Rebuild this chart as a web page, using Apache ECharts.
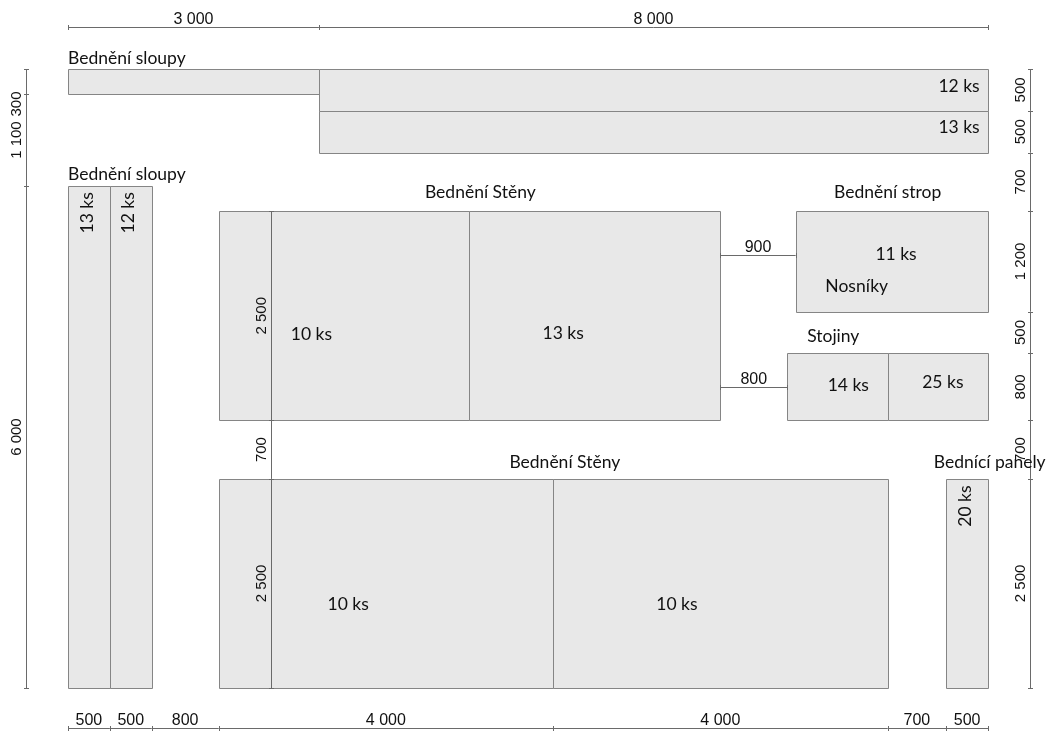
<!DOCTYPE html>
<html>
<head>
<meta charset="utf-8">
<script src="https://cdn.jsdelivr.net/npm/echarts@6/dist/echarts.min.js"></script>
<style>
html,body{margin:0;padding:0;background:#fff;}
#c{width:1052px;height:731px;}
</style>
</head>
<body>
<div id="c"></div>
<script>
// ---- Data (millimetres, origin top-left of the layout) ----
// Formwork pieces: [x0, y0, x1, y1]
const pieces = [
  [0, 0, 3000, 300],
  [3000, 0, 11000, 500],
  [3000, 500, 11000, 1000],
  [0, 1400, 500, 7400],
  [500, 1400, 1000, 7400],
  [1800, 1700, 4800, 4200],
  [4800, 1700, 7800, 4200],
  [8700, 1700, 11000, 2900],
  [8600, 3400, 9800, 4200],
  [9800, 3400, 11000, 4200],
  [1800, 4900, 5800, 7400],
  [5800, 4900, 9800, 7400],
  [10500, 4900, 11000, 7400]
];

// Labels: [text, x, y, anchor]
const labels = [
  ['Bednění sloupy', 0, -130, 'left'],
  ['Bednění sloupy', 0, 1255, 'left'],
  ['12 ks', 10900, 205, 'right'],
  ['13 ks', 10900, 700, 'right'],
  ['Bednění Stěny', 4930, 1470, 'center'],
  ['10 ks', 2910, 3170, 'center'],
  ['13 ks', 5920, 3160, 'center'],
  ['Bednění Stěny', 5940, 4700, 'center'],
  ['10 ks', 3350, 6400, 'center'],
  ['10 ks', 7280, 6400, 'center'],
  ['Bednění strop', 9800, 1480, 'center'],
  ['11 ks', 9900, 2210, 'center'],
  ['Nosníky', 9430, 2600, 'center'],
  ['Stojiny', 9150, 3200, 'center'],
  ['14 ks', 9330, 3780, 'center'],
  ['25 ks', 10460, 3750, 'center'],
  ['Bednící panely', 11020, 4700, 'center']
];
// Vertical (rotated) labels: [text, x, y]
const rotLabels = [
  ['13 ks', 230, 1720],
  ['12 ks', 720, 1720],
  ['20 ks', 10730, 5225]
];

// Dimension chains (break points in mm) and the line they sit on
const dimTop = [0, 3000, 11000];           const dimTopAt = -500;
const dimBottom = [0, 500, 1000, 1800, 5800, 9800, 10500, 11000]; const dimBottomAt = 7880;
const dimLeft = [0, 300, 1400, 7400];      const dimLeftAt = -500;
const dimLeftLabelAt = [418, 850, 4400];
const dimRight = [0, 500, 1000, 1700, 2900, 3400, 4200, 4900, 7400]; const dimRightAt = 11500;
const dimWall = [1700, 4200, 4900, 7400];  const dimWallAt = 2430;
const dimGap1 = [7800, 8700];              const dimGap1At = 2220;
const dimGap2 = [7800, 8600];              const dimGap2At = 3800;

// ---- Build ----
function fmt(n){
  if (n >= 1000) { const r = n % 1000; return Math.floor(n/1000) + ' ' + String(r).padStart(3,'0'); }
  return String(n);
}
const dimItems = [];
function addChain(breaks, at, orient, labelAt){
  for (let i = 0; i < breaks.length - 1; i++) {
    const a = breaks[i], b = breaks[i+1];
    const mid = labelAt ? labelAt[i] : (a + b) / 2;
    dimItems.push([orient, a, b, at, mid, fmt(b - a)]);
  }
}
addChain(dimTop, dimTopAt, 0);
addChain(dimBottom, dimBottomAt, 0);
addChain(dimGap1, dimGap1At, 0);
addChain(dimGap2, dimGap2At, 0);
addChain(dimLeft, dimLeftAt, 1, dimLeftLabelAt);
addChain(dimRight, dimRightAt, 1);
addChain(dimWall, dimWallAt, 1);

const DIM = '#6a6a6a';
const DIMFONT = '"Liberation Sans", Arial, sans-serif';
const BOXFONT = 'Lato, "Open Sans", sans-serif';
const h = v => Math.round(v) + 0.5;

const chart = echarts.init(document.getElementById('c'), null, {renderer: 'canvas'});
chart.setOption({
  animation: false,
  backgroundColor: '#ffffff',
  grid: {left: 68, top: 69, width: 920, height: 619},
  xAxis: {type: 'value', min: 0, max: 11000, show: false},
  yAxis: {type: 'value', min: 0, max: 7400, inverse: true, show: false},
  series: [
    {
      type: 'custom', clip: false, silent: true,
      data: pieces,
      renderItem: function(params, api){
        const p0 = api.coord([api.value(0), api.value(1)]);
        const p1 = api.coord([api.value(2), api.value(3)]);
        const x0 = h(p0[0]), y0 = h(p0[1]), x1 = h(p1[0]), y1 = h(p1[1]);
        return {type: 'rect', shape: {x: x0, y: y0, width: x1 - x0, height: y1 - y0},
          style: {fill: '#e8e8e8', stroke: '#858585', lineWidth: 1}};
      }
    },
    {
      type: 'custom', clip: false, silent: true,
      data: dimItems,
      renderItem: function(params, api){
        const d = dimItems[params.dataIndex];
        const orient = d[0], a = d[1], b = d[2], at = d[3], mid = d[4], txt = d[5];
        const ch = [];
        if (orient === 0) {
          const pa = api.coord([a, at]), pb = api.coord([b, at]), pm = api.coord([mid, at]);
          const y = h(pa[1]);
          ch.push({type: 'line', shape: {x1: pa[0], y1: y, x2: pb[0], y2: y}, style: {stroke: DIM, lineWidth: 1}});
          [pa[0], pb[0]].forEach(function(x){
            ch.push({type: 'line', shape: {x1: h(x), y1: y - 2.5, x2: h(x), y2: y + 2.5}, style: {stroke: DIM, lineWidth: 1}});
          });
          ch.push({type: 'text', x: pm[0], y: y - 8, style: {text: txt, fill: '#111', font: '16px ' + DIMFONT, align: 'center', verticalAlign: 'middle'}});
        } else {
          const pa = api.coord([at, a]), pb = api.coord([at, b]), pm = api.coord([at, mid]);
          const x = h(pa[0]);
          ch.push({type: 'line', shape: {x1: x, y1: pa[1], x2: x, y2: pb[1]}, style: {stroke: DIM, lineWidth: 1}});
          [pa[1], pb[1]].forEach(function(y){
            ch.push({type: 'line', shape: {x1: x - 2.5, y1: h(y), x2: x + 2.5, y2: h(y)}, style: {stroke: DIM, lineWidth: 1}});
          });
          ch.push({type: 'text', x: x - 9.5, y: pm[1], rotation: Math.PI / 2, style: {text: txt, fill: '#111', font: '15px ' + DIMFONT, align: 'center', verticalAlign: 'middle'}});
        }
        return {type: 'group', children: ch};
      }
    },
    {
      type: 'custom', clip: false, silent: true, z: 5,
      data: labels.map(function(l){ return [l[1], l[2], l[0], l[3]]; }),
      renderItem: function(params, api){
        const l = labels[params.dataIndex];
        const p = api.coord([l[1], l[2]]);
        return {type: 'text', x: p[0], y: p[1], style: {text: l[0], fill: '#111', font: '17.5px ' + BOXFONT, align: l[3], verticalAlign: 'middle'}};
      }
    },
    {
      type: 'custom', clip: false, silent: true, z: 5,
      data: rotLabels.map(function(l){ return [l[1], l[2], l[0]]; }),
      renderItem: function(params, api){
        const l = rotLabels[params.dataIndex];
        const p = api.coord([l[1], l[2]]);
        return {type: 'text', x: p[0], y: p[1], rotation: Math.PI / 2, style: {text: l[0], fill: '#111', font: '17.5px ' + BOXFONT, align: 'center', verticalAlign: 'middle'}};
      }
    }
  ]
});
</script>
</body>
</html>
